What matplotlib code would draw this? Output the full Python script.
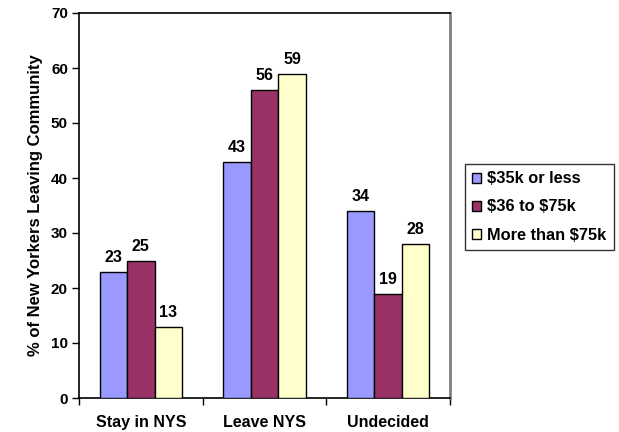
import matplotlib
matplotlib.use("Agg")
import matplotlib.pyplot as plt
import numpy as np

categories = ["Stay in NYS", "Leave NYS", "Undecided"]
series_names = ["$35k or less", "$36 to $75k", "More than $75k"]
low = [23, 43, 34]
mid = [25, 56, 19]
high = [13, 59, 28]
yticks = [0, 10, 20, 30, 40, 50, 60, 70]
colors = ["#9999FF", "#993366", "#FFFFCC"]

plt.rcParams['font.family'] = ['Liberation Sans', 'DejaVu Sans']
plt.rcParams['font.weight'] = 'bold'

fig = plt.figure(figsize=(6.19, 4.32), dpi=100)
ax = fig.add_axes([79/619, 34/432, (450-79)/619, (398-13)/432])

x = np.arange(len(categories))
w = 1 / 4.5
series = [low, mid, high]
for i, (vals, c, name) in enumerate(zip(series, colors, series_names)):
    pos = x + (i - 1) * w
    ax.bar(pos, vals, width=w, color=c, edgecolor="black", linewidth=1.0,
           label=name.replace("$", r"\$"), zorder=3)
    for p, v in zip(pos, vals):
        ax.annotate(str(v), (p, v), xytext=(0, 5), textcoords="offset points",
                    ha="center", va="bottom", fontsize=11.5, fontweight="bold")

ax.set_xlim(-0.5, 2.5)
ax.set_ylim(0, 70)
ax.set_yticks(yticks)
ax.set_yticklabels([str(t) for t in yticks], fontsize=11, fontweight="bold")
ax.set_xticks(x)
ax.set_xticklabels(categories, fontsize=11.5, fontweight="bold")
ax.tick_params(axis="x", length=0, pad=12)
ax.set_xticks([-0.5, 0.5, 1.5, 2.5], minor=True)
ax.tick_params(axis="x", which="minor", length=5, direction="out", width=1)
ax.tick_params(axis="y", length=5, direction="out", width=1, pad=3)
ax.set_ylabel("% of New Yorkers Leaving Community", fontsize=12, fontweight="bold", labelpad=6)

ax.spines["top"].set_color("black")
ax.spines["top"].set_linewidth(1.2)
ax.spines["right"].set_color("#808080")
ax.spines["right"].set_linewidth(2)
ax.spines["left"].set_linewidth(1.2)
ax.spines["bottom"].set_linewidth(1.2)

leg = fig.legend(loc="upper left", bbox_to_anchor=(465/619, 1 - 164/432), fontsize=11.8,
                 frameon=True, fancybox=False, edgecolor="black", handlelength=0.55,
                 handleheight=0.55, handletextpad=0.35, labelspacing=0.8, borderpad=0.45,
                 borderaxespad=0)
leg.get_frame().set_linewidth(1.0)
for t in leg.get_texts():
    t.set_fontweight("bold")

fig.savefig("out.png", dpi=100)
